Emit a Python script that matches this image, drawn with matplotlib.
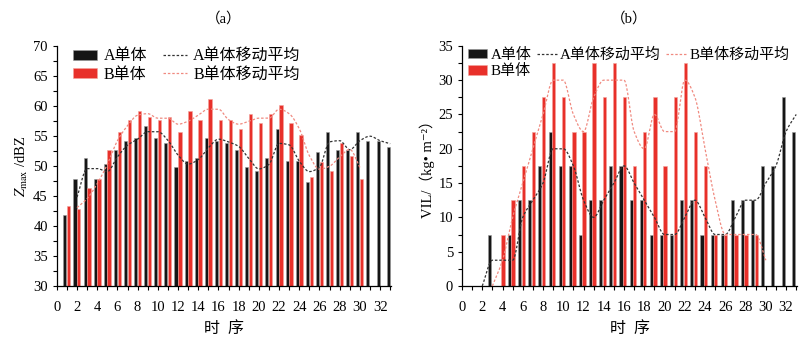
import matplotlib
matplotlib.use('Agg')
import matplotlib.pyplot as plt
import numpy as np
from matplotlib.patches import Patch
from matplotlib.lines import Line2D
from matplotlib.ticker import MultipleLocator

plt.rcParams['font.family'] = ['Liberation Serif', 'Noto Sans CJK SC', 'DejaVu Sans']
plt.rcParams['mathtext.fontset'] = 'stix'

# (a) Zmax, A单体 时序1-33, B单体 时序1-30
zmax_A = [41.8, 47.8, 51.3, 47.8, 50.3, 52.7, 54.2, 54.7, 56.7, 54.7,
          53.8, 49.8, 50.8, 51.3, 54.7, 54.2, 53.8, 52.7, 49.8, 49.2,
          51.3, 56.2, 50.8, 50.8, 47.3, 52.3, 55.7, 52.7, 52.7, 55.7,
          54.2, 54.2, 53.2]
zmax_B = [43.3, 42.8, 46.3, 47.8, 52.7, 55.7, 57.7, 59.2, 58.2, 57.7,
          58.2, 55.7, 59.2, 57.7, 61.2, 57.7, 57.7, 56.2, 58.7, 57.2,
          58.7, 60.2, 57.2, 55.2, 48.2, 50.7, 49.2, 53.8, 51.7, 47.8]
zmax_A_start = 1
zmax_B_start = 1

# (b) VIL, A单体 时序1-33, B单体 时序2-30
vil_A = [0, 0, 7.5, 0, 7.5, 12.5, 12.5, 17.5, 22.5, 17.5,
         17.5, 7.5, 12.5, 12.5, 17.5, 17.5, 12.5, 12.5, 7.5, 7.5,
         7.5, 12.5, 12.5, 7.5, 7.5, 7.5, 12.5, 12.5, 12.5, 17.5,
         17.5, 27.5, 22.5]
vil_B = [0, 0, 7.5, 12.5, 17.5, 22.5, 27.5, 32.5, 27.5,
         22.5, 22.5, 32.5, 27.5, 32.5, 27.5, 17.5, 22.5, 27.5, 17.5,
         27.5, 32.5, 22.5, 17.5, 7.5, 7.5, 7.5, 7.5, 7.5, 0]
vil_A_start = 1
vil_B_start = 2

x_ticks = list(range(0, 33, 2))

c_black = '#151515'
c_red = '#e8302a'
c_ma_black = '#333333'
c_ma_red = '#f08a80'


def moving_avg(vals, start):
    # 2-point moving average (trend line)
    v = np.asarray(vals, dtype=float)
    ma = (v[1:] + v[:-1]) / 2
    x = np.arange(start + 1, start + len(v))
    return x, ma


def smooth(x, y, n=16):
    # monotone cubic (pchip) curve through the points, no overshoot
    x = np.asarray(x, float)
    y = np.asarray(y, float)
    h = np.diff(x)
    d = np.diff(y) / h
    m = np.zeros_like(y)
    for i in range(1, len(y) - 1):
        if d[i - 1] * d[i] > 0:
            w1 = 2 * h[i] + h[i - 1]
            w2 = h[i] + 2 * h[i - 1]
            m[i] = (w1 + w2) / (w1 / d[i - 1] + w2 / d[i])
    m[0] = d[0]
    m[-1] = d[-1]
    xs, ys = [], []
    t = np.linspace(0, 1, n, endpoint=False)
    for i in range(len(x) - 1):
        h00 = 2 * t ** 3 - 3 * t ** 2 + 1
        h10 = t ** 3 - 2 * t ** 2 + t
        h01 = -2 * t ** 3 + 3 * t ** 2
        h11 = t ** 3 - t ** 2
        xs.extend(x[i] + t * h[i])
        ys.extend(h00 * y[i] + h10 * h[i] * m[i] + h01 * y[i + 1] + h11 * h[i] * m[i + 1])
    xs.append(x[-1])
    ys.append(y[-1])
    return np.array(xs), np.array(ys)


def draw(ax, A, a0, B, b0, offA, offB, ylim, ylabel, title):
    xa = np.arange(a0, a0 + len(A))
    xb = np.arange(b0, b0 + len(B))
    base = ylim[0]
    ax.bar(xa + offA, np.asarray(A) - base, width=0.3, bottom=base,
           color=c_black, edgecolor='#9a9a9a', linewidth=0.4, zorder=2)
    ax.bar(xb + offB, np.asarray(B) - base, width=0.33, bottom=base,
           color=c_red, edgecolor='#f3a39c', linewidth=0.4, zorder=2)
    mx, my = moving_avg(A, a0)
    sx, sy = smooth(mx, my)
    ax.plot(sx, sy, color=c_ma_black, lw=0.9, ls=(0, (2, 1.5)), zorder=3)
    mx, my = moving_avg(B, b0)
    sx, sy = smooth(mx, my)
    ax.plot(sx, sy, color=c_ma_red, lw=0.9, ls=(0, (2, 1.5)), zorder=3)

    ax.set_xlim(0, 33.1)
    ax.set_ylim(*ylim)
    ax.set_xticks(x_ticks)
    ax.xaxis.set_minor_locator(MultipleLocator(1))
    ax.yaxis.set_major_locator(MultipleLocator(5))
    ax.yaxis.set_minor_locator(MultipleLocator(2.5))
    ax.tick_params(which='both', direction='out', length=3, width=0.8, labelsize=10.5)
    ax.tick_params(axis='x', pad=8)
    for s in ('top', 'right'):
        ax.spines[s].set_visible(False)
    for s in ('left', 'bottom'):
        ax.spines[s].set_linewidth(0.9)
    ax.set_xlabel('时  序', fontsize=11.5, labelpad=5)
    ax.set_ylabel(ylabel, fontsize=10.5, labelpad=2)
    ax.set_title(title, fontsize=10.5, pad=17)


fig = plt.figure(figsize=(8, 3.5), dpi=100)
ax1 = fig.add_axes([0.071, 0.183, 0.418, 0.686])
ax2 = fig.add_axes([0.5775, 0.183, 0.419, 0.686])

draw(ax1, zmax_A, zmax_A_start, zmax_B, zmax_B_start, -0.2, 0.18,
     (30, 70), r'$Z_{\rm max}$ /dBZ', '（a）')
draw(ax2, vil_A, vil_A_start, vil_B, vil_B_start, -0.3, 0.05,
     (0, 35), 'VIL/（kg• m⁻²）', '（b）')

h_A = Patch(facecolor=c_black, edgecolor='#9a9a9a', lw=0.4)
h_B = Patch(facecolor=c_red, edgecolor='#f3a39c', lw=0.4)
h_mA = Line2D([], [], color=c_ma_black, lw=0.9, ls=(0, (2, 1.5)))
h_mB = Line2D([], [], color=c_ma_red, lw=0.9, ls=(0, (2, 1.5)))

ax1.legend([h_A, h_B, h_mA, h_mB], ['A单体', 'B单体', 'A单体移动平均', 'B单体移动平均'],
           ncol=2, loc='upper left', bbox_to_anchor=(0.02, 1.03), frameon=False,
           fontsize=11.5, handlelength=1.5, handleheight=0.6, handletextpad=0.4,
           columnspacing=1.0, labelspacing=0.15, borderaxespad=0.2)
ax2.legend([h_A, h_B, h_mA, h_mB], ['A单体', 'B单体', 'A单体移动平均', 'B单体移动平均'],
           ncol=3, loc='upper left', bbox_to_anchor=(-0.01, 1.03), frameon=False,
           fontsize=10.8, handlelength=1.3, handleheight=0.6, handletextpad=0.25,
           columnspacing=0.35, labelspacing=0.15, borderaxespad=0.2)

fig.savefig('out.png', dpi=100)
